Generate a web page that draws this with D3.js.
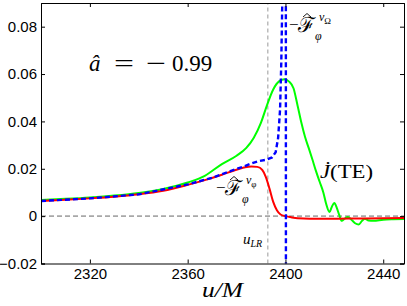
<!DOCTYPE html>
<html>
<head>
<meta charset="utf-8">
<script src="https://cdn.jsdelivr.net/npm/d3@7"></script>
<style>
  body { margin: 0; background: #fff; }
  .tick text { font-family: "Liberation Sans", Arial, sans-serif; font-size: 15px; fill: #000; }
  .math { font-family: "Liberation Serif", "Times New Roman", serif; fill: #000; }
</style>
</head>
<body>
<div id="viz"></div>
<script>
// J-dot (TE), green
var uJ = [2300, 2310, 2320, 2330, 2340, 2350, 2360, 2367, 2374, 2380, 2384, 2387, 2390, 2392.5, 2395, 2397.5,
  2399.6, 2401.5, 2403.3, 2405, 2406.5, 2408, 2409.5, 2411, 2412.5, 2414, 2415.5, 2416.7, 2418, 2419, 2420,
  2421, 2422, 2423, 2424.3, 2425.5, 2427, 2428.5, 2430, 2431.3, 2432.5, 2434, 2436, 2440, 2444, 2448.5];
var jTE = [0.0068, 0.0073, 0.0079, 0.0087, 0.0098, 0.0115, 0.0142, 0.0170, 0.0220, 0.0255, 0.0288, 0.0330, 0.0395, 0.0470, 0.0535, 0.0570,
  0.0578, 0.0568, 0.0540, 0.0465, 0.0395, 0.0335, 0.0288, 0.0240, 0.0190, 0.0145, 0.0100, 0.0050, 0.0017, 0.0040, 0.0055,
  0.0035, 0.0005, -0.0020, -0.0010, -0.0004, -0.0015, -0.0030, -0.0035, -0.0020, -0.0011, -0.0018, -0.0020, -0.0015, -0.0013, -0.0012];

// -F^{v_phi}, red
var uPhi = [2300, 2310, 2320, 2330, 2340, 2350, 2360, 2367, 2374, 2379, 2383, 2386, 2388.5, 2390.5, 2392, 2393.5,
  2395, 2396.5, 2398, 2400, 2402, 2405, 2410, 2420, 2430, 2440, 2448.5];
var fPhi = [0.0064, 0.0069, 0.0075, 0.0082, 0.0092, 0.0107, 0.0132, 0.0152, 0.0175, 0.0193, 0.0205, 0.0210, 0.0208, 0.0195, 0.0165, 0.0115,
  0.0060, 0.0025, 0.0007, 0.0000, -0.0004, -0.0009, -0.0011, -0.0011, -0.0010, -0.0009, -0.0008];

// -F^{v_Omega}, blue dashed (pole near u = 2400)
var uOm = [2300, 2320, 2340, 2360, 2370, 2378, 2383, 2386, 2389, 2392, 2394.5, 2396, 2397, 2397.8, 2398.3, 2398.7, 2399,
  2400.15, 2400.2];
var fOm = [0.0064, 0.0075, 0.0092, 0.0134, 0.0162, 0.0192, 0.0210, 0.0222, 0.0232, 0.0238, 0.0248, 0.0270, 0.0330, 0.0450, 0.0650, 0.0900, 0.1100,
  0.1500, -0.0500];

var xTicks = [2320, 2360, 2400, 2440];
var yTicks = [-0.02, 0, 0.02, 0.04, 0.06, 0.08];
var uLR = 2392.8;

var W = 407, H = 306;
var margin = { top: 3, right: 3, bottom: 42.5, left: 41 };

var x = d3.scaleLinear().domain([2300, 2448.5]).range([margin.left, W - margin.right]);
var y = d3.scaleLinear().domain([-0.02, 0.09]).range([H - margin.bottom, margin.top]);

var svg = d3.select("#viz").append("svg")
  .attr("width", W)
  .attr("height", H);

svg.append("defs").append("clipPath").attr("id", "plotclip")
  .append("rect")
  .attr("x", x.range()[0]).attr("y", y.range()[1])
  .attr("width", x.range()[1] - x.range()[0])
  .attr("height", y.range()[0] - y.range()[1]);

var plot = svg.append("g").attr("clip-path", "url(#plotclip)");

// zero line and light-ring marker
plot.append("line")
  .attr("x1", x.range()[0]).attr("x2", x.range()[1])
  .attr("y1", y(0)).attr("y2", y(0))
  .attr("stroke", "#a8a8a8").attr("stroke-width", 1.6)
  .attr("stroke-dasharray", "5,3");
plot.append("line")
  .attr("x1", x(uLR)).attr("x2", x(uLR))
  .attr("y1", y.range()[0]).attr("y2", y.range()[1])
  .attr("stroke", "#999").attr("stroke-width", 1)
  .attr("stroke-dasharray", "4,3");

function series(us, vs) {
  return us.map(function (u, i) { return [u, vs[i]]; });
}
var line = d3.line()
  .x(function (d) { return x(d[0]); })
  .y(function (d) { return y(d[1]); })
  .curve(d3.curveMonotoneX);
var lineStraight = d3.line()
  .x(function (d) { return x(d[0]); })
  .y(function (d) { return y(d[1]); });

plot.append("path").datum(series(uJ, jTE))
  .attr("d", line).attr("fill", "none")
  .attr("stroke", "#00ff00").attr("stroke-width", 2);

plot.append("path").datum(series(uPhi, fPhi))
  .attr("d", line).attr("fill", "none")
  .attr("stroke", "#ff0000").attr("stroke-width", 2);

plot.append("path").datum(series(uOm, fOm))
  .attr("d", lineStraight).attr("fill", "none")
  .attr("stroke", "#0000ff").attr("stroke-width", 2.4)
  .attr("stroke-dasharray", "5,3");

// axes (box, inward ticks)
var xAxis = d3.axisBottom(x).tickValues(xTicks).tickSize(-4).tickPadding(5).tickFormat(d3.format("d"));
var yAxis = d3.axisLeft(y).tickValues(yTicks).tickSize(-4).tickPadding(4)
  .tickFormat(function (d) { return d === 0 ? "0" : d3.format(".2f")(d).replace("-", "\u2212"); });

svg.append("g").attr("transform", "translate(0," + y.range()[0] + ")").call(xAxis);
svg.append("g").attr("transform", "translate(" + x.range()[0] + ",0)").call(yAxis);
svg.append("g").attr("transform", "translate(0," + y.range()[1] + ")")
  .call(d3.axisTop(x).tickValues(xTicks).tickSize(-4).tickFormat(""));
svg.append("g").attr("transform", "translate(" + x.range()[1] + ",0)")
  .call(d3.axisRight(y).tickValues(yTicks).tickSize(-4).tickFormat(""));
svg.selectAll(".domain").attr("stroke", "#000");
svg.selectAll(".tick line").attr("stroke", "#000");

// labels
svg.append("text").attr("class", "math").attr("x", 89).attr("y", 71)
  .style("font-size", "23px").style("font-style", "italic").text("\u00e2");
svg.append("text").attr("class", "math").attr("x", 114).attr("y", 71)
  .attr("textLength", 20).attr("lengthAdjust", "spacingAndGlyphs")
  .style("font-size", "23px").text("=");
svg.append("text").attr("class", "math").attr("x", 146).attr("y", 71)
  .attr("textLength", 20).attr("lengthAdjust", "spacingAndGlyphs")
  .style("font-size", "23px").text("\u2212");
svg.append("text").attr("class", "math").attr("x", 172).attr("y", 71)
  .style("font-size", "23px").text("0.99");

function fluxLabel(x0, yb, sup, subSup) {
  var g = svg.append("g").attr("class", "math");
  g.append("text").attr("x", x0).attr("y", yb).style("font-size", "17px").text("\u2212");
  g.append("text").attr("x", x0 + 9).attr("y", yb + 2).style("font-size", "21px").text("\u2131");
  g.append("path")
    .attr("d", "M" + (x0 + 14) + "," + (yb - 13) + "l4,-3.5l4,3.5")
    .attr("fill", "none").attr("stroke", "#000").attr("stroke-width", 0.9);
  var s = g.append("text").attr("x", x0 + 30).attr("y", yb - 9).style("font-size", "12px");
  s.append("tspan").style("font-style", "italic").text(sup);
  s.append("tspan").attr("dy", 3).style("font-size", "9px").text(subSup);
  g.append("text").attr("x", x0 + 26).attr("y", yb + 10).style("font-size", "12px").style("font-style", "italic").text("\u03c6");
}
fluxLabel(289, 30, "v", "\u03a9");
fluxLabel(216, 193, "v", "\u03c6");

var j = svg.append("text").attr("class", "math").attr("x", 320).attr("y", 178)
  .attr("textLength", 53).attr("lengthAdjust", "spacingAndGlyphs")
  .style("font-size", "19px");
j.append("tspan").style("font-style", "italic").text("J\u0307");
j.append("tspan").text("(TE)");

var ul = svg.append("text").attr("class", "math").attr("x", 243).attr("y", 244).style("font-size", "15px");
ul.append("tspan").style("font-style", "italic").text("u");
ul.append("tspan").attr("dy", 3).style("font-size", "10px").style("font-style", "italic").text("LR");

svg.append("text").attr("class", "math")
  .attr("x", 202).attr("y", 297)
  .attr("textLength", 41).attr("lengthAdjust", "spacingAndGlyphs")
  .style("font-size", "22px").style("font-style", "italic")
  .text("u/M");
</script>
</body>
</html>
